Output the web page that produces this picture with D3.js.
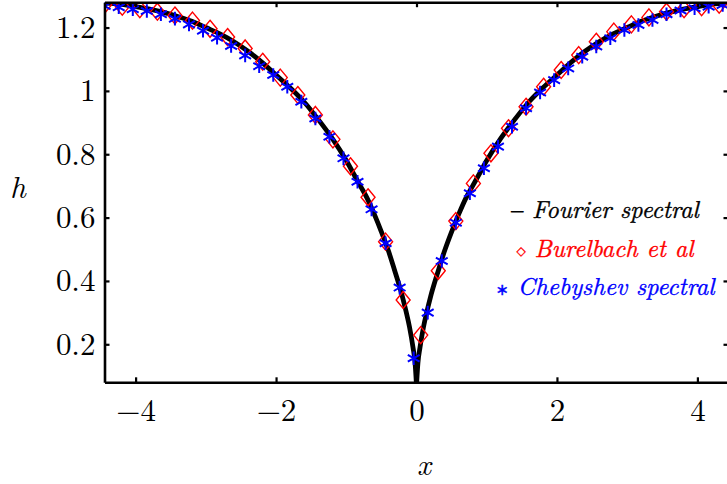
<!DOCTYPE html>
<html>
<head>
<meta charset="utf-8">
<script src="https://cdn.jsdelivr.net/npm/d3@7"></script>
<style>
  html, body { margin: 0; padding: 0; background: #fff; }
  svg { display: block; }
  .cm { font-family: "Latin Modern Roman", "Liberation Serif", serif; }
</style>
</head>
<body>
<svg id="chart" width="727" height="484"></svg>
<script>
// ---- Data ----
// Fourier spectral solution (black curve)
const fourierX = [-4.443, -4.2, -4.0, -3.8, -3.6, -3.4, -3.2, -3.0, -2.8, -2.6, -2.4, -2.2, -2.0, -1.8, -1.6, -1.4, -1.2, -1.0, -0.9, -0.8, -0.7, -0.6, -0.5, -0.4, -0.3, -0.2, -0.15, -0.1, -0.05, -0.02, 0,
                  0.02, 0.05, 0.1, 0.15, 0.2, 0.3, 0.4, 0.5, 0.6, 0.7, 0.8, 0.9, 1.0, 1.2, 1.4, 1.6, 1.8, 2.0, 2.2, 2.4, 2.6, 2.8, 3.0, 3.2, 3.4, 3.6, 3.8, 4.0, 4.2, 4.443];
const fourierH = [1.278, 1.273, 1.266, 1.258, 1.248, 1.235, 1.220, 1.200, 1.180, 1.155, 1.125, 1.090, 1.050, 1.010, 0.965, 0.910, 0.850, 0.780, 0.740, 0.700, 0.660, 0.610, 0.555, 0.495, 0.425, 0.350, 0.305, 0.255, 0.190, 0.140, 0.070,
                  0.140, 0.190, 0.255, 0.305, 0.350, 0.425, 0.495, 0.555, 0.610, 0.660, 0.700, 0.740, 0.780, 0.850, 0.910, 0.965, 1.010, 1.050, 1.090, 1.125, 1.155, 1.180, 1.200, 1.220, 1.235, 1.248, 1.258, 1.266, 1.273, 1.278];

// Burelbach et al (red diamonds)
const burelX = [-4.44, -4.19, -3.94, -3.69, -3.44, -3.19, -2.94, -2.69, -2.44, -2.19, -1.94, -1.69, -1.44, -1.19, -0.94, -0.69, -0.44, -0.19,
                0.06, 0.31, 0.56, 0.81, 1.06, 1.31, 1.56, 1.81, 2.06, 2.31, 2.56, 2.81, 3.06, 3.31, 3.56, 3.81, 4.06, 4.31];
const burelH = [1.272, 1.266, 1.258, 1.250, 1.238, 1.222, 1.196, 1.170, 1.134, 1.092, 1.042, 0.987, 0.924, 0.847, 0.762, 0.664, 0.524, 0.340,
                0.229, 0.432, 0.589, 0.708, 0.803, 0.882, 0.950, 1.013, 1.066, 1.113, 1.155, 1.187, 1.210, 1.232, 1.250, 1.258, 1.264, 1.272];

// Chebyshev spectral (blue asterisks)
const chebX = [-4.44, -4.24, -4.04, -3.84, -3.64, -3.44, -3.24, -3.04, -2.84, -2.64, -2.44, -2.24, -2.04, -1.84, -1.64, -1.44, -1.24, -1.04, -0.84, -0.64, -0.44, -0.24, -0.04,
               0.16, 0.36, 0.56, 0.76, 0.96, 1.16, 1.36, 1.56, 1.76, 1.96, 2.16, 2.36, 2.56, 2.76, 2.96, 3.16, 3.36, 3.56, 3.76, 3.96, 4.16, 4.36];
const chebH = [1.268, 1.264, 1.258, 1.252, 1.242, 1.228, 1.210, 1.190, 1.168, 1.142, 1.112, 1.078, 1.050, 1.013, 0.966, 0.913, 0.855, 0.787, 0.713, 0.626, 0.519, 0.379, 0.156,
               0.300, 0.463, 0.584, 0.677, 0.756, 0.824, 0.887, 0.945, 0.995, 1.034, 1.071, 1.108, 1.140, 1.166, 1.192, 1.208, 1.224, 1.242, 1.254, 1.261, 1.266, 1.271];

const xTicks = [-4, -2, 0, 2, 4];
const yTicks = [0.2, 0.4, 0.6, 0.8, 1, 1.2];
const xDomain = [-4.443, 4.443];
const yDomain = [0.08, 1.28];

const legendLabels = ["Fourier spectral", "Burelbach et al", "Chebyshev spectral"];
const legendSymbols = ["\u2013", "\u25C7", "\u2217"];
const legendColors = ["#000000", "#ff0000", "#0000ff"];

// ---- Layout ----
const pLeft = 104.5, pRight = 728.5, pTop = 2.2, pBottom = 382.3;
const svg = d3.select("#chart");
const x = d3.scaleLinear().domain(xDomain).range([pLeft, pRight]);
const y = d3.scaleLinear().domain(yDomain).range([pBottom, pTop]);

svg.append("defs").append("clipPath").attr("id", "plotclip")
  .append("rect").attr("x", pLeft).attr("y", pTop).attr("width", pRight - pLeft).attr("height", pBottom - pTop);

const plot = svg.append("g").attr("clip-path", "url(#plotclip)");

// curve: two halves so the cusp at x = 0 stays sharp
const pts = fourierX.map((d, i) => [d, fourierH[i]]);
const i0 = fourierX.indexOf(0);
const line = d3.line().x(d => x(d[0])).y(d => y(d[1])).curve(d3.curveMonotoneX);
plot.append("path").attr("d", line(pts.slice(0, i0 + 1)))
  .attr("fill", "none").attr("stroke", "#000").attr("stroke-width", 4.8).attr("stroke-linejoin", "round");
plot.append("path").attr("d", line(pts.slice(i0)))
  .attr("fill", "none").attr("stroke", "#000").attr("stroke-width", 4.8).attr("stroke-linejoin", "round");

// diamonds
const dw = 7, dh = 8.5;
plot.selectAll("path.dia").data(burelX.map((d, i) => [d, burelH[i]])).join("path")
  .attr("class", "dia")
  .attr("d", d => `M${x(d[0])},${y(d[1]) - dh}L${x(d[0]) + dw},${y(d[1])}L${x(d[0])},${y(d[1]) + dh}L${x(d[0]) - dw},${y(d[1])}Z`)
  .attr("fill", "none").attr("stroke", "#ff0000").attr("stroke-width", 1.4);

// asterisks
const sr = 6.8;
function star(cx, cy) {
  const c = Math.cos(Math.PI / 6) * sr, s = Math.sin(Math.PI / 6) * sr;
  return `M${cx},${cy - sr}L${cx},${cy + sr}` +
         `M${cx - c},${cy - s}L${cx + c},${cy + s}` +
         `M${cx - c},${cy + s}L${cx + c},${cy - s}`;
}
plot.selectAll("path.star").data(chebX.map((d, i) => [d, chebH[i]])).join("path")
  .attr("class", "star")
  .attr("d", d => star(x(d[0]), y(d[1])))
  .attr("fill", "none").attr("stroke", "#0000ff").attr("stroke-width", 2);

// ---- Axes ----
function styleAxis(g) {
  g.attr("font-family", null);
  g.select(".domain").attr("stroke", "#000").attr("stroke-width", 2.6);
  g.selectAll(".tick line").attr("stroke", "#000").attr("stroke-width", 2.2);
  g.selectAll(".tick text").attr("class", "cm").style("font-size", "31px").attr("fill", "#000");
}
const fmtY = d => (d === 1 ? "1" : d3.format(".1f")(d));
svg.append("g").attr("transform", `translate(0,${pBottom})`)
  .call(d3.axisBottom(x).tickValues(xTicks).tickSizeInner(-5).tickSizeOuter(0).tickPadding(17).tickFormat(d3.format("d")))
  .call(styleAxis);
svg.append("g").attr("transform", `translate(0,${pTop})`)
  .call(d3.axisTop(x).tickValues(xTicks).tickSizeInner(-5).tickSizeOuter(0).tickFormat(""))
  .call(styleAxis);
svg.append("g").attr("transform", `translate(${pLeft},0)`)
  .call(d3.axisLeft(y).tickValues(yTicks).tickSizeInner(-5).tickSizeOuter(0).tickPadding(9).tickFormat(fmtY))
  .call(styleAxis);
svg.append("g").attr("transform", `translate(${pRight},0)`)
  .call(d3.axisRight(y).tickValues(yTicks).tickSizeInner(-5).tickSizeOuter(0).tickFormat(""))
  .call(styleAxis);

// axis labels
svg.append("text").attr("class", "cm").attr("x", 424).attr("y", 475).attr("text-anchor", "middle")
  .style("font-style", "italic").style("font-size", "30px").text("x");
svg.append("text").attr("class", "cm").attr("x", 18).attr("y", 198).attr("text-anchor", "middle")
  .style("font-style", "italic").style("font-size", "31px").text("h");

// ---- Legend ----
const legY = [218, 257, 295];
legendLabels.forEach((lab, i) => {
  const t = svg.append("text").attr("class", "cm").attr("x", 605).attr("y", legY[i]).attr("text-anchor", "middle")
    .style("font-size", "24.5px").attr("fill", legendColors[i])
    .attr("stroke", legendColors[i]).attr("stroke-width", 0.35);
  t.append("tspan").style("font-style", "normal")
    .style("font-family", i === 0 ? null : "'DejaVu Sans', sans-serif")
    .style("font-size", i === 0 ? "24px" : (i === 1 ? "12px" : "16px"))
    .attr("stroke-width", i === 0 ? 0.8 : 0.35)
    .attr("dy", i === 1 ? -2 : 0)
    .text(legendSymbols[i]);
  t.append("tspan").style("font-style", "italic").attr("dy", i === 1 ? 2 : 0).text(" " + lab);
});
</script>
</body>
</html>
